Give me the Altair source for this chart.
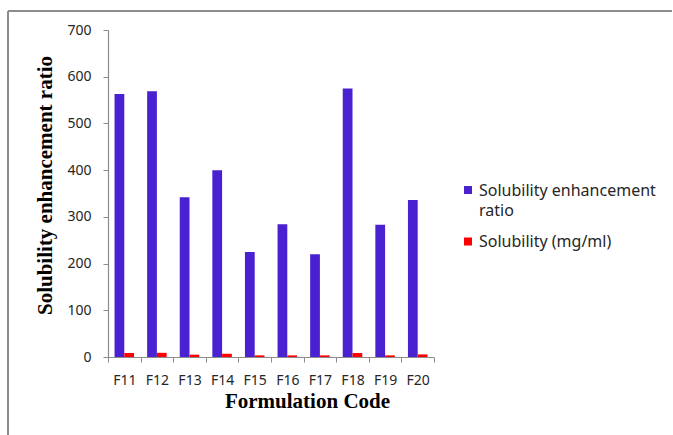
import altair as alt
import pandas as pd

# Formulation codes and the two measured series
formulations = ["F11", "F12", "F13", "F14", "F15", "F16", "F17", "F18", "F19", "F20"]
enhancement_ratio = [563, 569, 342, 400, 225, 284, 220, 575, 283, 336]
solubility_mg_ml = [8.5, 9, 5, 7, 3.5, 3.5, 3.5, 8.5, 3.5, 5.5]

series_names = ["Solubility enhancement ratio", "Solubility (mg/ml)"]
series_colors = ["#4A21D1", "#FF0000"]
legend_lines = [["Solubility enhancement", "ratio"], ["Solubility (mg/ml)"]]

rows = []
for f, r, s in zip(formulations, enhancement_ratio, solubility_mg_ml):
    rows.append({"Formulation": f, "Series": series_names[0], "Value": r})
    rows.append({"Formulation": f, "Series": series_names[1], "Value": s})
df = pd.DataFrame(rows)

legend_df = pd.DataFrame({"Series": series_names, "Lines": legend_lines})

PLOT_W, PLOT_H = 326, 327
LEFT, TOP = 108, 30

color_enc = alt.Color(
    "Series:N",
    sort=series_names,
    scale=alt.Scale(domain=series_names, range=series_colors),
    legend=None,
)

bars = alt.Chart(df).mark_bar().encode(
    x=alt.X(
        "Formulation:N",
        sort=formulations,
        scale=alt.Scale(paddingInner=0, paddingOuter=0),
        axis=alt.Axis(
            title="Formulation Code",
            titleFont="Liberation Serif",
            titleFontSize=21,
            titleFontWeight="bold",
            titleColor="#000000",
            titleX=199,
            titleY=50,
            titleAlign="center",
            titleBaseline="alphabetic",
            labelAngle=0,
            labelFont="Noto Sans",
            labelFontSize=14,
            labelColor="#262626",
            labelPadding=11,
            tickBand="extent",
            tickSize=5,
            tickColor="#8C8C8C",
            domainColor="#8C8C8C",
            domainWidth=1.2,
            grid=False,
        ),
    ),
    xOffset=alt.XOffset(
        "Series:N",
        sort=series_names,
        scale=alt.Scale(paddingInner=0, paddingOuter=0.67),
    ),
    y=alt.Y(
        "Value:Q",
        scale=alt.Scale(domain=[0, 700], nice=False),
        axis=alt.Axis(
            title="Solubility enhancement ratio",
            values=[0, 100, 200, 300, 400, 500, 600, 700],
            titleFont="Liberation Serif",
            titleFontSize=21,
            titleFontWeight="bold",
            titleColor="#000000",
            titleX=-63,
            titleY=155,
            titleAlign="center",
            titleBaseline="middle",
            labelFont="Noto Sans",
            labelFontSize=14,
            labelColor="#262626",
            labelPadding=12,
            tickSize=5,
            tickColor="#8C8C8C",
            domainColor="#8C8C8C",
            domainWidth=1.2,
            grid=False,
        ),
    ),
    color=color_enc,
)

# Legend to the right of the plot: a square swatch and a wrapped label per series
legend_y = alt.Y(
    "Series:N",
    sort=series_names,
    scale=alt.Scale(type="point", domain=series_names, range=[160, 211.5], padding=0),
    axis=None,
)
legend_swatch = alt.Chart(legend_df).mark_square(size=64, opacity=1).encode(
    x=alt.value(360),
    y=legend_y,
    color=color_enc,
)
legend_text = alt.Chart(legend_df).mark_text(
    align="left",
    baseline="alphabetic",
    dy=5.5,
    font="Noto Sans",
    fontSize=16,
    lineHeight=20,
    color="#262626",
).encode(
    x=alt.value(371),
    y=legend_y,
    text="Lines:N",
)

# Chart-area frame along the top and left edges
frame_top = alt.Chart(df).mark_rule(color="#8C8C8C", strokeWidth=1.5).encode(
    x=alt.value(8 - LEFT), x2=alt.value(672 - LEFT), y=alt.value(11 - TOP)
)
frame_left = alt.Chart(df).mark_rule(color="#8C8C8C", strokeWidth=1.5).encode(
    x=alt.value(8 - LEFT), y=alt.value(11 - TOP), y2=alt.value(435 - TOP + 5)
)

chart = alt.layer(frame_top, frame_left, bars, legend_swatch, legend_text).resolve_scale(
    y="independent"
).properties(
    width=PLOT_W,
    height=PLOT_H,
    autosize=alt.AutoSizeParams(type="none"),
    padding={"left": LEFT, "top": TOP, "right": 673 - LEFT - PLOT_W, "bottom": 435 - TOP - PLOT_H},
    background="#FFFFFF",
).configure_view(stroke=None)

chart.save("out.html", embed_options={"renderer": "svg", "actions": False})
